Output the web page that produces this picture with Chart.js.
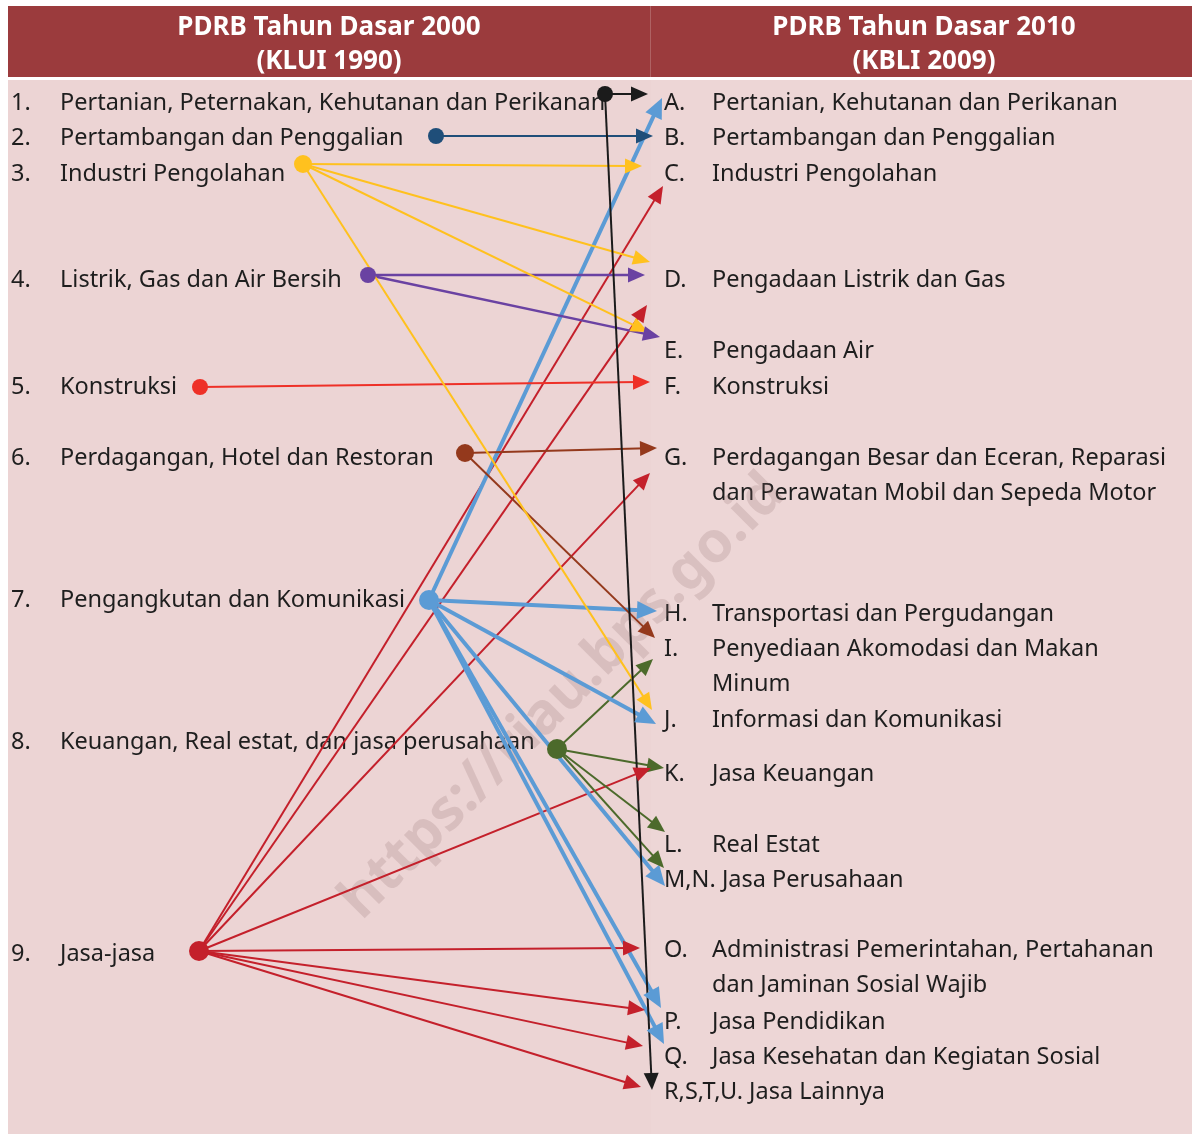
<!DOCTYPE html>
<html>
<head>
<meta charset="utf-8">
<script src="https://cdn.jsdelivr.net/npm/chart.js@4/dist/chart.umd.min.js"></script>
<style>
  html, body { margin: 0; padding: 0; background: #fff; }
  canvas { display: block; }
</style>
</head>
<body>
<canvas id="chart1" width="1194" height="1136"></canvas>
<script>
// headers
const headLeft = ['PDRB Tahun Dasar 2000', '(KLUI 1990)']
const headRight = ['PDRB Tahun Dasar 2010', '(KBLI 2009)']

// left column: KLUI 1990 sectors
const leftNums = ['1.', '2.', '3.', '4.', '5.', '6.', '7.', '8.', '9.']
const leftNames = [
  'Pertanian, Peternakan, Kehutanan dan Perikanan',
  'Pertambangan dan Penggalian',
  'Industri Pengolahan',
  'Listrik, Gas dan Air Bersih',
  'Konstruksi',
  'Perdagangan, Hotel dan Restoran',
  'Pengangkutan dan Komunikasi',
  'Keuangan, Real estat, dan jasa perusahaan',
  'Jasa-jasa'
]
const leftRows = [101, 136, 172, 278, 385, 456, 598, 740, 952]
const dotX = [605, 436, 303, 368, 200, 465, 429, 557, 199]
const dotY = [94, 136, 164, 275, 387, 453, 600, 749, 951]
const dotColors = ['#1b1b1b', '#1f4e79', '#ffc11e', '#6a42a2', '#ee3027', '#94391c', '#5b9bd5', '#4c6a2b', '#c4202b']
const dotSize = [8, 8, 9, 8, 8, 9, 10, 10, 10]
const lineWidth = [2, 2, 2, 2.5, 2, 2, 4, 2, 2]

// right column: KBLI 2009 sectors
const rightCodes = ['A.', 'B.', 'C.', 'D.', 'E.', 'F.', 'G.', 'H.', 'I.', 'J.', 'K.', 'L.', 'M,N.', 'O.', 'P.', 'Q.', 'R,S,T,U.']
const rightNames = [
  ['Pertanian, Kehutanan dan Perikanan'],
  ['Pertambangan dan Penggalian'],
  ['Industri Pengolahan'],
  ['Pengadaan Listrik dan Gas'],
  ['Pengadaan Air'],
  ['Konstruksi'],
  ['Perdagangan Besar dan Eceran, Reparasi', 'dan Perawatan Mobil dan Sepeda Motor'],
  ['Transportasi dan Pergudangan'],
  ['Penyediaan Akomodasi dan Makan', 'Minum'],
  ['Informasi dan Komunikasi'],
  ['Jasa Keuangan'],
  ['Real Estat'],
  ['Jasa Perusahaan'],
  ['Administrasi Pemerintahan, Pertahanan', 'dan Jaminan Sosial Wajib'],
  ['Jasa Pendidikan'],
  ['Jasa Kesehatan dan Kegiatan Sosial'],
  ['Jasa Lainnya']
]
const rightRows = [101, 136, 172, 278, 349, 385, 456, 612, 647, 718, 772, 843, 878, 948, 1020, 1055, 1090]

// mappings: source index (left), target code, arrow tip x, arrow tip y
const linkFrom = [0, 0, 1, 2, 2, 2, 2, 3, 3, 4, 5, 5, 6, 6, 6, 6, 6, 6, 7, 7, 7, 7, 8, 8, 8, 8, 8, 8, 8, 8]
const linkTo = ['A.', 'R,S,T,U.', 'B.', 'C.', 'D.', 'E.', 'J.', 'D.', 'E.', 'F.', 'G.', 'I.',
  'A.', 'H.', 'J.', 'M,N.', 'P.', 'Q.', 'I.', 'K.', 'L.', 'M,N.',
  'C.', 'E.', 'G.', 'K.', 'O.', 'P.', 'Q.', 'R,S,T,U.']
const tipX = [648, 652, 653, 642, 650, 648, 652, 645, 660, 650, 657, 655,
  662, 657, 656, 665, 661, 664, 653, 664, 665, 664,
  663, 647, 650, 651, 640, 645, 643, 641]
const tipY = [94, 1090, 136, 166, 262, 332, 710, 275, 337, 382, 448, 638,
  98, 611, 724, 886, 1008, 1044, 659, 768, 832, 868,
  186, 305, 473, 768, 948, 1010, 1046, 1087]

const watermark = 'https://riau.bps.go.id'

const W = 1194, H = 1136
const FONT = '"Noto Sans", "Open Sans", sans-serif'
const TEXT_DY = 2

function headSize(fromIdx) {
  return fromIdx === 6 ? { len: 20, half: 9 } : { len: 17, half: 7.5 }
}

// datasets: one line per link, shortened so the arrow head covers the end
const linkSets = linkFrom.map((f, i) => {
  const sx = dotX[f], sy = dotY[f]
  const dx = tipX[i] - sx, dy = tipY[i] - sy
  const d = Math.sqrt(dx * dx + dy * dy)
  const cut = headSize(f).len * 0.6
  return {
    type: 'line',
    label: leftNums[f] + ' -> ' + linkTo[i],
    data: [{ x: sx, y: sy }, { x: tipX[i] - dx / d * cut, y: tipY[i] - dy / d * cut }],
    borderColor: dotColors[f],
    borderWidth: lineWidth[f],
    pointRadius: 0,
    fill: false,
    tension: 0,
    clip: false,
    order: 2
  }
})

const dotSet = {
  type: 'scatter',
  label: 'sources',
  data: dotX.map((v, i) => ({ x: v, y: dotY[i] })),
  pointRadius: dotSize,
  pointBackgroundColor: dotColors,
  pointBorderWidth: 0,
  clip: false,
  order: 0
}

const backdrop = {
  id: 'backdrop',
  beforeDraw(chart) {
    const ctx = chart.ctx
    const xs = chart.scales.x, ys = chart.scales.y
    const px = v => xs.getPixelForValue(v), py = v => ys.getPixelForValue(v)
    ctx.save()
    ctx.fillStyle = '#ffffff'
    ctx.fillRect(0, 0, W, H)
    // body
    ctx.fillStyle = '#ecd4d4'
    ctx.fillRect(px(8), py(80), px(1192) - px(8), py(1134) - py(80))
    ctx.fillStyle = '#edd6d6'
    ctx.fillRect(px(651), py(80), px(1192) - px(651), py(1134) - py(80))
    // header
    ctx.fillStyle = '#9b3b3d'
    ctx.fillRect(px(8), py(6), px(1192) - px(8), py(77) - py(6))
    ctx.strokeStyle = 'rgba(255,255,255,0.2)'
    ctx.lineWidth = 1
    ctx.beginPath()
    ctx.moveTo(px(650.5), py(6)); ctx.lineTo(px(650.5), py(77))
    ctx.stroke()
    ctx.fillStyle = '#ffffff'
    ctx.font = 'bold 26px ' + FONT
    ctx.textAlign = 'center'
    ctx.textBaseline = 'middle'
    headLeft.forEach((t, i) => ctx.fillText(t, px(329), py(26 + TEXT_DY + i * 34)))
    headRight.forEach((t, i) => ctx.fillText(t, px(924), py(26 + TEXT_DY + i * 34)))
    ctx.restore()
  },
  beforeDatasetsDraw(chart) {
    const ctx = chart.ctx
    const xs = chart.scales.x, ys = chart.scales.y
    const px = v => xs.getPixelForValue(v), py = v => ys.getPixelForValue(v + TEXT_DY)
    ctx.save()
    ctx.fillStyle = '#1e1e1e'
    ctx.font = '23.5px ' + FONT
    ctx.textAlign = 'left'
    ctx.textBaseline = 'middle'
    leftNames.forEach((t, i) => {
      ctx.fillText(leftNums[i], px(11), py(leftRows[i]))
      ctx.fillText(t, px(60), py(leftRows[i]))
    })
    rightCodes.forEach((c, i) => {
      const lines = rightNames[i]
      if (c.length > 2) {
        ctx.fillText(c + ' ' + lines[0], px(664), py(rightRows[i]))
      } else {
        ctx.fillText(c, px(664), py(rightRows[i]))
        lines.forEach((l, j) => ctx.fillText(l, px(712), py(rightRows[i] + j * 35.5)))
      }
    })
    // watermark
    ctx.translate(px(563), py(695))
    ctx.rotate(-Math.PI / 4)
    ctx.font = 'bold 57px ' + FONT
    ctx.textAlign = 'center'
    ctx.fillStyle = 'rgba(140,105,105,0.2)'
    ctx.fillText(watermark, 0, 0)
    ctx.restore()
  },
  afterDatasetsDraw(chart) {
    const ctx = chart.ctx
    const xs = chart.scales.x, ys = chart.scales.y
    const px = v => xs.getPixelForValue(v), py = v => ys.getPixelForValue(v)
    ctx.save()
    linkFrom.forEach((f, i) => {
      const x0 = px(dotX[f]), y0 = py(dotY[f])
      const x1 = px(tipX[i]), y1 = py(tipY[i])
      const a = Math.atan2(y1 - y0, x1 - x0)
      const hs = headSize(f)
      ctx.fillStyle = dotColors[f]
      ctx.beginPath()
      ctx.moveTo(x1, y1)
      ctx.lineTo(x1 - hs.len * Math.cos(a) + hs.half * Math.sin(a), y1 - hs.len * Math.sin(a) - hs.half * Math.cos(a))
      ctx.lineTo(x1 - hs.len * Math.cos(a) - hs.half * Math.sin(a), y1 - hs.len * Math.sin(a) + hs.half * Math.cos(a))
      ctx.closePath()
      ctx.fill()
    })
    ctx.restore()
  }
}

const ctx = document.getElementById('chart1').getContext('2d')
const chart = new Chart(ctx, {
  data: { datasets: linkSets.concat([dotSet]) },
  options: {
    responsive: false,
    animation: false,
    devicePixelRatio: 1,
    layout: { padding: 0, autoPadding: false },
    events: [],
    scales: {
      x: { type: 'linear', min: 0, max: W, display: false },
      y: { type: 'linear', min: 0, max: H, reverse: true, display: false }
    },
    plugins: { legend: { display: false }, tooltip: { enabled: false } }
  },
  plugins: [backdrop]
})
</script>
</body>
</html>
